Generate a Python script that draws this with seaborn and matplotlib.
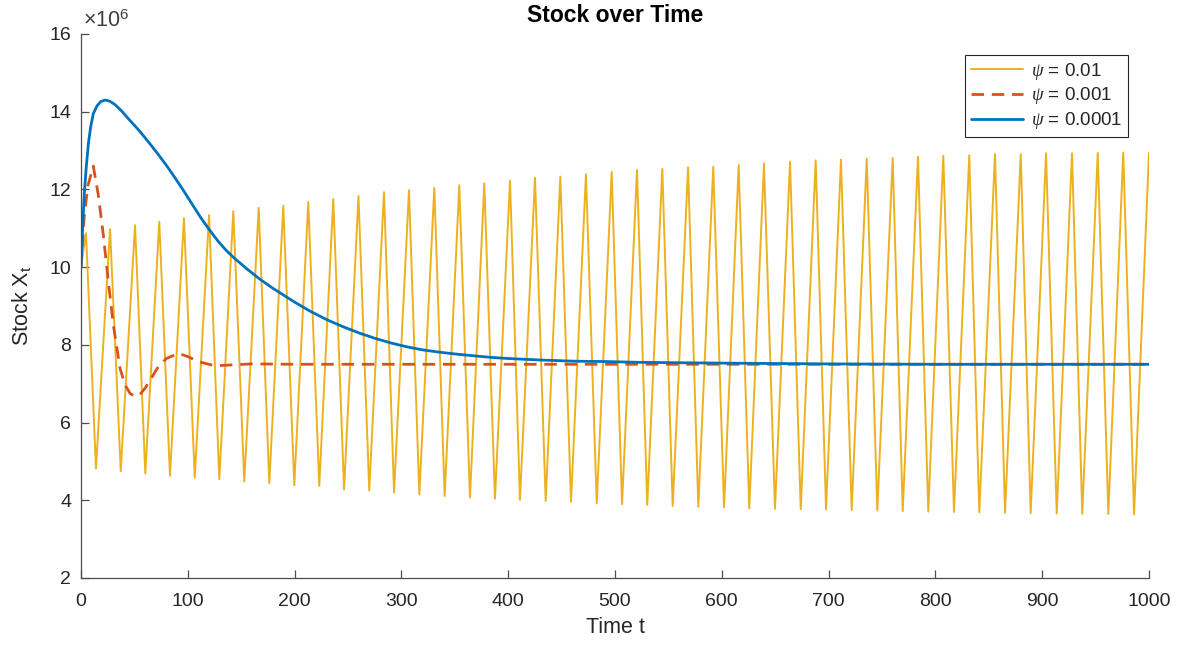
import numpy as np
import pandas as pd
import matplotlib
matplotlib.use("Agg")
import matplotlib.pyplot as plt
import seaborn as sns

# ---- data (values in units of 10^6) ----
# psi = 0.01 : oscillation, peaks and troughs
peak_t = [4.7, 27.2, 50.6, 73.3, 96.4, 119.9, 142.6, 166.4, 189.4, 212.8, 236.2,
          259.8, 283.7, 307.1, 330.8, 354.2, 377.6, 401.7, 425.1, 448.8, 472.8,
          496.9, 520.6, 544.3, 568.4, 592.0, 615.8, 639.5, 663.9, 687.9, 711.6,
          735.7, 760.0, 783.7, 807.4, 831.7, 855.8, 879.9, 903.6, 927.9, 952.0,
          975.9, 1000.0]
peak_v = [10.87, 10.98, 11.08, 11.17, 11.26, 11.34, 11.44, 11.53, 11.58, 11.68, 11.75,
          11.83, 11.93, 11.98, 12.04, 12.11, 12.16, 12.23, 12.30, 12.33, 12.39,
          12.45, 12.50, 12.53, 12.57, 12.58, 12.63, 12.67, 12.71, 12.75, 12.77,
          12.79, 12.81, 12.84, 12.87, 12.88, 12.91, 12.91, 12.93, 12.93, 12.94,
          12.95, 12.95]
trough_t = [14.0, 37.2, 60.2, 83.3, 106.5, 129.5, 152.9, 176.3, 199.7, 223.1, 246.3,
            269.9, 293.1, 316.8, 340.5, 364.2, 387.6, 411.0, 435.1, 458.8, 482.9,
            506.6, 530.2, 554.0, 578.0, 602.1, 625.7, 649.8, 673.9, 697.6, 721.6,
            745.6, 769.4, 793.3, 817.4, 841.1, 865.2, 889.2, 913.6, 937.5, 961.9,
            986.0]
trough_v = [4.82, 4.75, 4.69, 4.63, 4.58, 4.54, 4.48, 4.44, 4.39, 4.37, 4.28,
            4.25, 4.20, 4.15, 4.11, 4.07, 4.04, 4.01, 3.98, 3.96, 3.92,
            3.90, 3.88, 3.85, 3.83, 3.82, 3.79, 3.78, 3.77, 3.77, 3.75,
            3.74, 3.72, 3.71, 3.70, 3.69, 3.68, 3.67, 3.66, 3.65, 3.65,
            3.64]
start_t = [0.0]
start_v = [10.0]

# psi = 0.001
mid_t = [0, 3, 6.5, 11.5, 16.2, 20.9, 25.6, 30.3, 36.5, 41.2, 46, 50.6, 55, 59.9,
         66, 72.4, 80, 91.1, 100, 109.8, 125.5, 138, 160, 200, 300, 1000]
mid_v = [10.0, 11.3, 12.1, 12.60, 11.86, 10.83, 9.63, 8.51, 7.40, 6.97, 6.75, 6.67,
         6.72, 6.88, 7.15, 7.44, 7.65, 7.78, 7.70, 7.57, 7.46, 7.48, 7.51, 7.50,
         7.50, 7.50]

# psi = 0.0001
low_t = [0, 1.5, 3.1, 5, 7, 9, 11.5, 15, 18.5, 22.5, 27, 32, 38, 45, 52, 57, 65,
         74, 81, 88, 96, 105, 112, 120, 128, 136, 144, 156, 168, 180, 200, 215,
         230, 245, 261, 275, 290, 305, 320, 336, 352, 367, 383, 399, 430, 461, 492,
         523, 560, 600, 650, 700, 800, 900, 1000]
low_v = [10.0, 11.0, 11.9, 12.6, 13.2, 13.6, 13.95, 14.15, 14.26, 14.30, 14.27,
         14.18, 14.02, 13.80, 13.59, 13.43, 13.16, 12.84, 12.58, 12.30, 11.97,
         11.58, 11.28, 10.97, 10.68, 10.43, 10.22, 9.94, 9.68, 9.45, 9.10, 8.86,
         8.65, 8.47, 8.30, 8.17, 8.05, 7.95, 7.87, 7.81, 7.76, 7.72, 7.68, 7.65,
         7.61, 7.58, 7.57, 7.55, 7.54, 7.53, 7.52, 7.51, 7.50, 7.50, 7.50]

labels = [r"$\psi$ = 0.01", r"$\psi$ = 0.001", r"$\psi$ = 0.0001"]
x_ticks = list(range(0, 1001, 100))
y_ticks = list(range(2, 17, 2))

# ---- build tables ----
hi = pd.DataFrame({"t": start_t + peak_t + trough_t,
                   "v": start_v + peak_v + trough_v}).sort_values("t")
md = pd.DataFrame({"t": mid_t, "v": mid_v})
lo = pd.DataFrame({"t": low_t, "v": low_v})

sns.set_theme(style="white")
plt.rcParams["font.family"] = ["Liberation Sans", "DejaVu Sans"]
plt.rcParams["mathtext.fontset"] = "custom"
plt.rcParams["mathtext.rm"] = "Liberation Sans"
plt.rcParams["mathtext.it"] = "Liberation Serif:italic"

fig = plt.figure(figsize=(11.8, 6.48), dpi=100)
ax = fig.add_axes([81 / 1180, 1 - 578 / 648, 1068 / 1180, 544 / 648])

c_hi, c_md, c_lo = "#EDB120", "#D95319", "#0072BD"
sns.lineplot(data=hi, x="t", y="v", ax=ax, color=c_hi, lw=1.4, sort=False,
             label=labels[0], estimator=None)
sns.lineplot(data=md, x="t", y="v", ax=ax, color=c_md, lw=2.0, sort=False,
             label=labels[1], estimator=None, linestyle=(0, (4.5, 2.8)))
sns.lineplot(data=lo, x="t", y="v", ax=ax, color=c_lo, lw=2.0, sort=False,
             label=labels[2], estimator=None)

ax.set_xlim(0, 1000)
ax.set_ylim(2, 16)
ax.set_xticks(x_ticks)
ax.set_yticks(y_ticks)
ax.set_xticklabels([str(v) for v in x_ticks])
ax.set_yticklabels([str(v) for v in y_ticks])

for s in ["top", "right"]:
    ax.spines[s].set_visible(False)
for s in ["left", "bottom"]:
    ax.spines[s].set_color("#4d4d4d")
    ax.spines[s].set_linewidth(0.9)
ax.tick_params(direction="in", length=6, width=0.9, color="#4d4d4d",
               labelsize=14, labelcolor="#262626", left=True, bottom=True)
ax.tick_params(axis="x", pad=11)
ax.tick_params(axis="y", pad=7)

ax.set_xlabel("Time t", fontsize=15.5, color="#262626", labelpad=5)
ax.set_ylabel(r"Stock X$_\mathregular{t}$", fontsize=15.5, color="#262626", labelpad=12)
ax.set_title("Stock over Time", fontsize=16.5, fontweight="bold", color="black", pad=9)
ax.text(0.002, 1.004, r"$\times$10$^\mathregular{6}$", transform=ax.transAxes,
        fontsize=15.5, color="#404040", ha="left", va="bottom")

leg = ax.legend(loc="upper right", bbox_to_anchor=(0.9803, 0.9614), borderaxespad=0,
                fontsize=13.5, frameon=True, fancybox=False, framealpha=1,
                edgecolor="#262626", handlelength=2.8, handletextpad=0.4,
                labelspacing=0.2, borderpad=0.3)
leg.get_frame().set_linewidth(0.8)

fig.savefig("out.png", dpi=100)
